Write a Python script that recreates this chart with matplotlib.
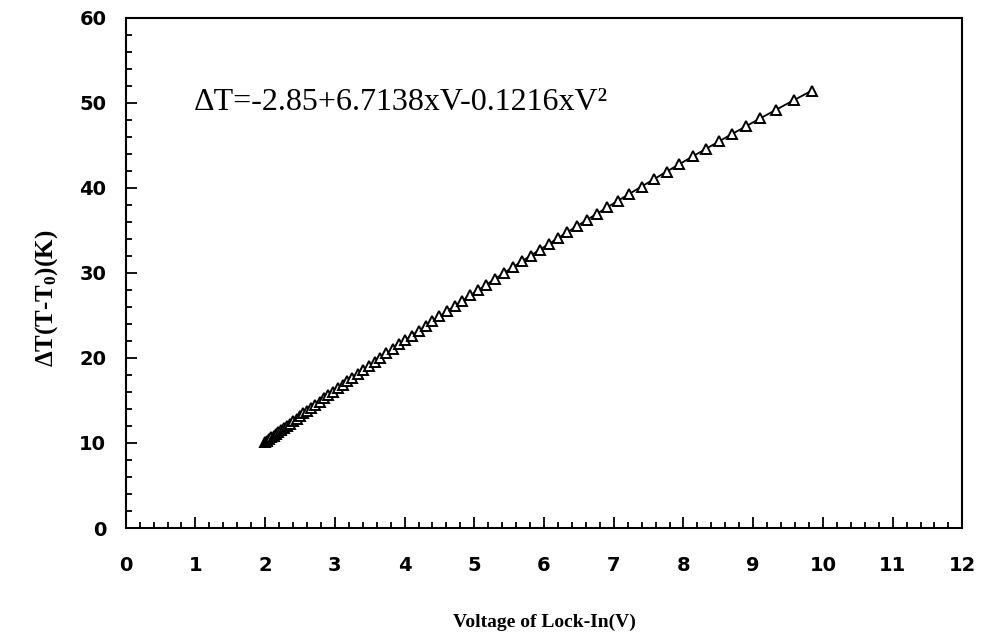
import matplotlib
matplotlib.use('Agg')
import matplotlib.pyplot as plt
from matplotlib.ticker import MultipleLocator

# voltage of lock-in (V) and temperature rise (K)
voltage = [2.00, 2.03, 2.06, 2.09, 2.12, 2.15, 2.19, 2.23, 2.27, 2.31,
           2.35, 2.40, 2.45, 2.50, 2.55, 2.60, 2.66, 2.72, 2.78, 2.84,
           2.90, 2.97, 3.04, 3.11, 3.18, 3.25, 3.33, 3.41, 3.49, 3.57,
           3.65, 3.74, 3.83, 3.92, 4.01, 4.10, 4.20, 4.30, 4.40, 4.50,
           4.61, 4.72, 4.83, 4.94, 5.05, 5.17, 5.29, 5.42, 5.55, 5.68,
           5.81, 5.94, 6.07, 6.20, 6.33, 6.47, 6.61, 6.76, 6.91, 7.06,
           7.22, 7.40, 7.58, 7.76, 7.94, 8.13, 8.32, 8.51, 8.70, 8.90,
           9.10, 9.33, 9.58, 9.84]
delta_t = [10.09, 10.28, 10.46, 10.65, 10.84, 11.02, 11.27, 11.52, 11.76, 12.01,
           12.26, 12.56, 12.87, 13.17, 13.48, 13.78, 14.15, 14.51, 14.87, 15.24,
           15.60, 16.02, 16.44, 16.85, 17.27, 17.69, 18.16, 18.63, 19.10, 19.57,
           20.04, 20.56, 21.08, 21.60, 22.12, 22.63, 23.20, 23.77, 24.34, 24.90,
           25.52, 26.13, 26.74, 27.35, 27.95, 28.61, 29.26, 29.97, 30.67, 31.36,
           32.05, 32.74, 33.42, 34.10, 34.78, 35.50, 36.22, 36.98, 37.74, 38.49,
           39.29, 40.17, 41.05, 41.93, 42.79, 43.70, 44.59, 45.48, 46.36, 47.27,
           48.18, 49.21, 50.31, 51.44]

fit_text = 'ΔT=-2.85+6.7138xV-0.1216xV²'

plt.rcParams['mathtext.fontset'] = 'custom'
plt.rcParams['mathtext.rm'] = 'Liberation Serif:bold'
plt.rcParams['mathtext.it'] = 'Liberation Serif:bold'

fig = plt.figure(figsize=(9.82, 6.4), dpi=100)
ax = fig.add_axes([0.128, 0.175, 0.852, 0.797])

ax.plot(voltage, delta_t, color='black', lw=1.3, marker='^', ms=7.5,
        mfc='white', mec='black', mew=1.4)

ax.set_xlim(0, 12)
ax.set_ylim(0, 60)
ax.xaxis.set_major_locator(MultipleLocator(1))
ax.xaxis.set_minor_locator(MultipleLocator(0.2))
ax.yaxis.set_major_locator(MultipleLocator(10))
ax.yaxis.set_minor_locator(MultipleLocator(2))
ax.tick_params(which='both', direction='in', width=1.3, top=False, right=False)
ax.tick_params(which='major', length=8)
ax.tick_params(axis='x', which='major', pad=20)
ax.tick_params(axis='y', which='major', pad=14)
ax.tick_params(which='minor', length=4.5)
for lab in ax.get_xticklabels() + ax.get_yticklabels():
    lab.set_fontfamily('DejaVu Sans')
    lab.set_fontweight('bold')
    lab.set_fontsize(14)
for s in ax.spines.values():
    s.set_linewidth(1.5)

ax.set_xlabel('Voltage of Lock-In(V)', fontfamily='Liberation Serif',
              fontweight='bold', fontsize=14, labelpad=28)
ax.set_ylabel('ΔT(T-T$_0$)(K)', fontfamily='Liberation Serif',
              fontweight='bold', fontsize=18)
ax.yaxis.set_label_coords(-0.079, 0.45)

ax.text(0.97, 50.1, fit_text, fontfamily='Liberation Serif', fontsize=23,
        va='center', ha='left')

plt.savefig('out.png')
